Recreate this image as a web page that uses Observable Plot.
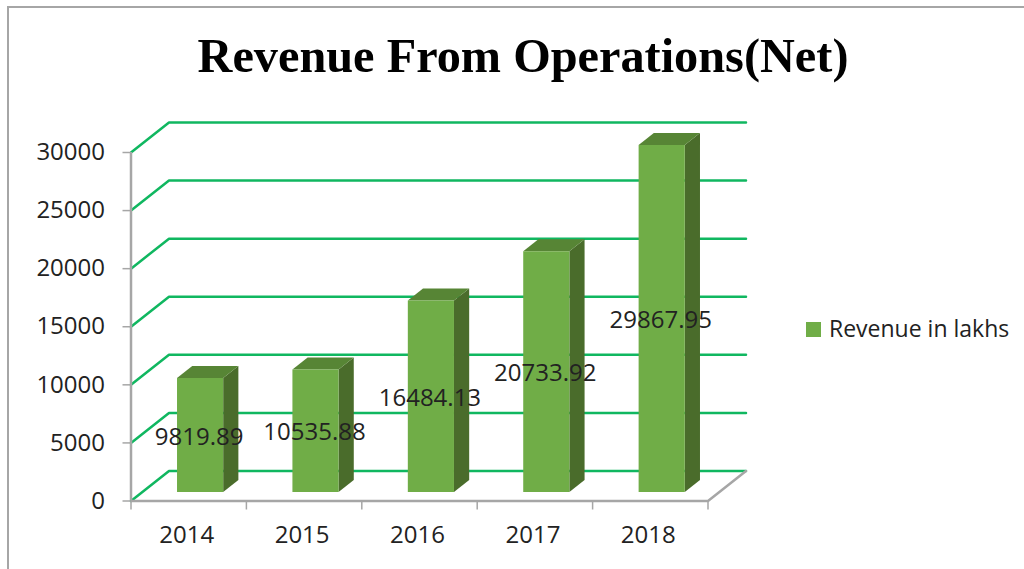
<!DOCTYPE html>
<html>
<head>
<meta charset="utf-8">
<script src="https://cdn.jsdelivr.net/npm/d3@7"></script>
<script src="https://cdn.jsdelivr.net/npm/@observablehq/plot@0.6"></script>
<style>
  html, body { margin: 0; padding: 0; background: #fff; overflow: hidden; }
  #page { position: relative; width: 1024px; height: 569px; box-sizing: border-box; }
  #frame { position: absolute; left: 7px; top: 6px; width: 1017px; height: 563px; box-sizing: border-box;
           border-left: 2px solid #a6a6a6; border-top: 2px solid #a6a6a6; pointer-events: none; }
  #title { height: 100px; box-sizing: border-box; padding-top: 24px; text-align: center;
           font: bold 48.3px/64px "Liberation Serif", serif; color: #000; width: 1046px; white-space: nowrap; }
  #row { display: flex; align-items: flex-start; height: 469px; }
  #chart { width: 790px; flex: none; }
  #legend { margin-left: 16px; margin-top: 214px; display: flex; align-items: center; gap: 8px;
            font: 23px/30px "Open Sans", sans-serif; color: #222; white-space: nowrap; }
  #legend i { display: block; width: 15px; height: 15px; background: #70ad47; }
  #legend span { position: relative; top: -1px; }
</style>
</head>
<body>
<div id="page">
  <div id="frame"></div>
  <div id="title">Revenue From Operations(Net)</div>
  <div id="row">
    <div id="chart"></div>
    <div id="legend"><i></i><span>Revenue in lakhs</span></div>
  </div>
</div>
<script>
const years = [2014, 2015, 2016, 2017, 2018];
const revenue = [9819.89, 10535.88, 16484.13, 20733.92, 29867.95];
const yTicks = [0, 5000, 10000, 15000, 20000, 25000, 30000];

// Oblique projection of the chart's 3D box, in data units of the x and y scales.
const depthX = 0.3293;   // categories per unit depth
const depthY = 2582;     // value units per unit depth
const barStart = 0.3, barEnd = 0.7;          // bar extent along depth and within the category
const pt = (x, v, d) => ({x: x + d * depthX, y: v + d * depthY});

const gridLines = yTicks.flatMap(v => [
  {...pt(0, v, 0), v}, {...pt(0, v, 1), v}, {...pt(years.length, v, 1), v}
]);
const floorEdge = [pt(years.length, 0, 0), pt(years.length, 0, 1)];

const faces = years.flatMap((yr, i) => {
  const l = i + barStart, r = i + barEnd, v = revenue[i];
  const d0 = barStart, d1 = barEnd;
  const poly = (face, pts) => pts.map(p => ({...p, id: yr + face, face}));
  return [
    ...poly("side", [pt(r, 0, d0), pt(r, 0, d1), pt(r, v, d1), pt(r, v, d0)]),
    ...poly("top", [pt(l, v, d0), pt(r, v, d0), pt(r, v, d1), pt(l, v, d1)]),
    ...poly("front", [pt(l, 0, d0), pt(r, 0, d0), pt(r, v, d0), pt(l, v, d0)])
  ];
});
const faceColor = {front: "#70ad47", side: "#4a6c2b", top: "#578535"};

const labels = years.map((yr, i) => ({
  yr, v: revenue[i],
  x: i + 0.5 + barStart * depthX,
  y: revenue[i] / 2 + barStart * depthY
}));

const plot = Plot.plot({
  width: 790,
  height: 469,
  marginLeft: 130.5, marginRight: 82.5, marginTop: 52, marginBottom: 68.5,
  style: {background: "transparent", fontFamily: "'Open Sans', sans-serif", overflow: "visible"},
  x: {type: "linear", domain: [0, years.length]},
  y: {type: "linear", domain: [0, 30000]},
  marks: [
    Plot.line(gridLines, {x: "x", y: "y", z: "v", stroke: "#10b760", strokeWidth: 2.5, strokeLinejoin: "miter"}),
    Plot.line(floorEdge, {x: "x", y: "y", stroke: "#a6a6a6", strokeWidth: 2.5}),
    Plot.ruleX([0], {y1: 0, y2: 30000, stroke: "#a6a6a6", strokeWidth: 2.5}),
    Plot.ruleY([0], {x1: 0, x2: years.length, stroke: "#a6a6a6", strokeWidth: 2.5}),
    Plot.axisY({
      ticks: yTicks, tickSize: 8, tickPadding: 18, stroke: "#a6a6a6", strokeWidth: 1.5,
      tickFormat: d => String(d), fontSize: 24, fill: "#222", label: null
    }),
    Plot.axisX({
      ticks: d3.range(years.length + 1), tickSize: 9, stroke: "#a6a6a6", strokeWidth: 1.5,
      tickFormat: () => "", label: null
    }),
    Plot.text(years.map((yr, i) => ({yr, x: i + 0.5})), {
      x: "x", y: 0, text: d => String(d.yr), dx: -2, dy: 34, fontSize: 24, fill: "#222"
    }),
    Plot.line(faces, {
      x: "x", y: "y", z: "id", fill: d => faceColor[d.face], stroke: "none"
    }),
    Plot.text(labels, {
      x: "x", y: "y", text: d => String(d.v), dx: -1, dy: 2, fontSize: 24, fill: "#222"
    })
  ]
});
document.getElementById("chart").appendChild(plot);
</script>
</body>
</html>
